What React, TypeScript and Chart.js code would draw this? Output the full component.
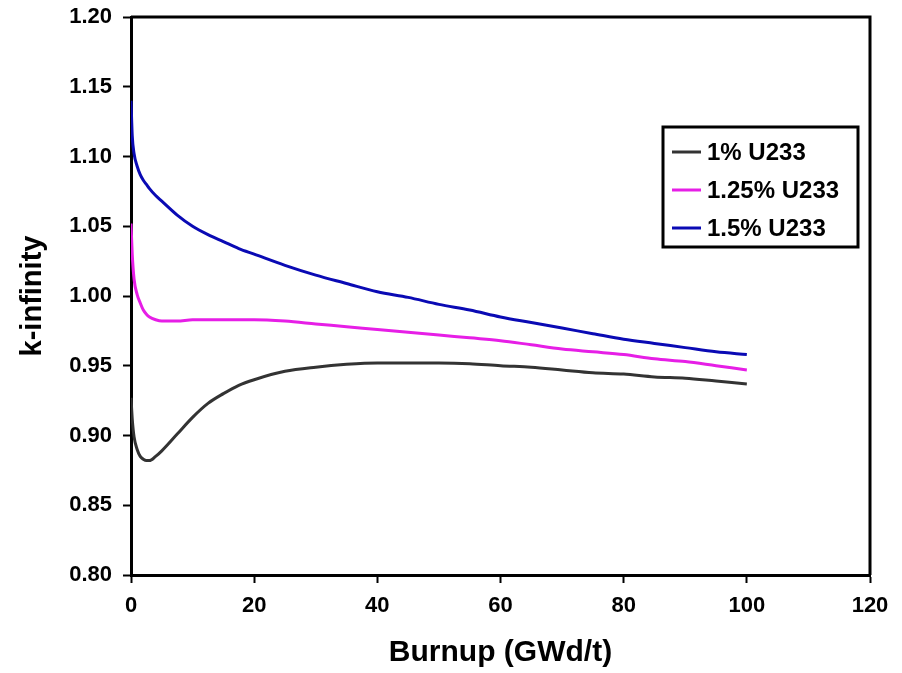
import React, { useEffect, useRef } from "react";
import { Chart, registerables } from "chart.js";

Chart.register(...registerables);

const burnup = [0, 0.2, 0.5, 1, 1.5, 2, 2.5, 3, 4, 5, 7.5, 10, 12.5, 15, 17.5, 20, 25, 30, 35, 40, 45, 50, 55, 60, 65, 70, 75, 80, 85, 90, 95, 100];

const kU100 = [0.927, 0.912, 0.899, 0.890, 0.885, 0.883, 0.882, 0.882, 0.885, 0.889, 0.901, 0.913, 0.923, 0.930, 0.936, 0.940, 0.946, 0.949, 0.951, 0.952, 0.952, 0.952, 0.9515, 0.950, 0.949, 0.947, 0.945, 0.944, 0.942, 0.941, 0.939, 0.937];
const kU125 = [1.052, 1.030, 1.012, 1.001, 0.995, 0.990, 0.987, 0.985, 0.983, 0.982, 0.982, 0.983, 0.983, 0.983, 0.983, 0.983, 0.982, 0.980, 0.978, 0.976, 0.974, 0.972, 0.970, 0.968, 0.965, 0.962, 0.960, 0.958, 0.955, 0.953, 0.950, 0.947];
const kU150 = [1.140, 1.115, 1.102, 1.093, 1.087, 1.083, 1.080, 1.077, 1.072, 1.068, 1.058, 1.050, 1.044, 1.039, 1.034, 1.030, 1.022, 1.015, 1.009, 1.003, 0.999, 0.994, 0.990, 0.985, 0.981, 0.977, 0.973, 0.969, 0.966, 0.963, 0.960, 0.958];

const seriesLabels = ["1% U233", "1.25% U233", "1.5% U233"];
const seriesColors = ["#333333", "#e61ee6", "#0a0ab4"];
const seriesValues = [kU100, kU125, kU150];

const xTitle = "Burnup (GWd/t)";
const yTitle = "k-infinity";

const FONT = "'Liberation Sans', Arial, sans-serif";

const boxPlugin = {
  id: "boxAndLegend",
  afterDraw(chart: any) {
    const { ctx, chartArea } = chart;
    ctx.save();
    ctx.strokeStyle = "#000";
    ctx.lineWidth = 3;
    ctx.beginPath();
    ctx.moveTo(chartArea.left, chartArea.top);
    ctx.lineTo(chartArea.right, chartArea.top);
    ctx.lineTo(chartArea.right, chartArea.bottom);
    ctx.stroke();

    // legend
    const bx = 663, by = 127, bw = 195, bh = 120;
    ctx.fillStyle = "#fff";
    ctx.fillRect(bx, by, bw, bh);
    ctx.lineWidth = 3;
    ctx.strokeRect(bx, by, bw, bh);
    const rows = [152, 190, 228];
    ctx.font = `bold 24px ${FONT}`;
    ctx.textBaseline = "middle";
    ctx.textAlign = "left";
    chart.data.datasets.forEach((ds: any, i: number) => {
      ctx.strokeStyle = ds.borderColor;
      ctx.lineWidth = 3;
      ctx.beginPath();
      ctx.moveTo(672, rows[i]);
      ctx.lineTo(701, rows[i]);
      ctx.stroke();
      ctx.fillStyle = "#000";
      ctx.fillText(ds.label, 707, rows[i] + 1);
    });
    ctx.restore();
  },
};

export default function App() {
  const ref = useRef<HTMLCanvasElement | null>(null);

  useEffect(() => {
    document.body.style.margin = "0";
    const canvas = ref.current;
    if (!canvas) return;
    const chart = new Chart(canvas, {
      type: "line",
      data: {
        datasets: seriesValues.map((vals, i) => ({
          label: seriesLabels[i],
          data: burnup.map((x, j) => ({ x, y: vals[j] })),
          borderColor: seriesColors[i],
          backgroundColor: seriesColors[i],
          borderWidth: 3,
          pointRadius: 0,
          cubicInterpolationMode: "monotone" as const,
          fill: false,
        })),
      },
      options: {
        animation: false,
        responsive: false,
        maintainAspectRatio: false,
        layout: { padding: { top: 17, right: 32, left: 0, bottom: 0 } },
        plugins: {
          legend: { display: false },
          tooltip: { enabled: false },
        },
        scales: {
          x: {
            type: "linear",
            min: 0,
            max: 120,
            afterFit: (s: any) => {
              s.height = 98;
              s.paddingLeft = 0;
              s.paddingRight = 0;
            },
            ticks: {
              stepSize: 20,
              color: "#000",
              padding: 10,
              font: { family: FONT, size: 22, weight: "bold" },
            },
            grid: {
              drawOnChartArea: false,
              drawTicks: true,
              tickLength: 8,
              tickWidth: 2,
              tickColor: "#000",
            },
            border: { color: "#000", width: 3 },
            title: {
              display: true,
              text: xTitle,
              color: "#000",
              padding: { top: 0, bottom: 2 },
              font: { family: FONT, size: 30, weight: "bold" },
            },
          },
          y: {
            min: 0.8,
            max: 1.2,
            afterFit: (s: any) => {
              s.width = 131;
              s.paddingTop = 0;
              s.paddingBottom = 0;
            },
            ticks: {
              stepSize: 0.05,
              color: "#000",
              padding: 11,
              callback: (v: any) => Number(v).toFixed(2),
              font: { family: FONT, size: 22, weight: "bold" },
            },
            grid: {
              drawOnChartArea: false,
              drawTicks: true,
              tickLength: 8,
              tickWidth: 2,
              tickColor: "#000",
            },
            border: { color: "#000", width: 3 },
            title: {
              display: true,
              text: yTitle,
              color: "#000",
              padding: { top: 16, bottom: 0 },
              font: { family: FONT, size: 29, weight: "bold" },
            },
          },
        },
      },
      plugins: [boxPlugin],
    });
    return () => chart.destroy();
  }, []);

  return (
    <div style={{ width: 902, height: 673, background: "#fff" }}>
      <canvas ref={ref} width={902} height={673} style={{ display: "block" }} />
    </div>
  );
}
